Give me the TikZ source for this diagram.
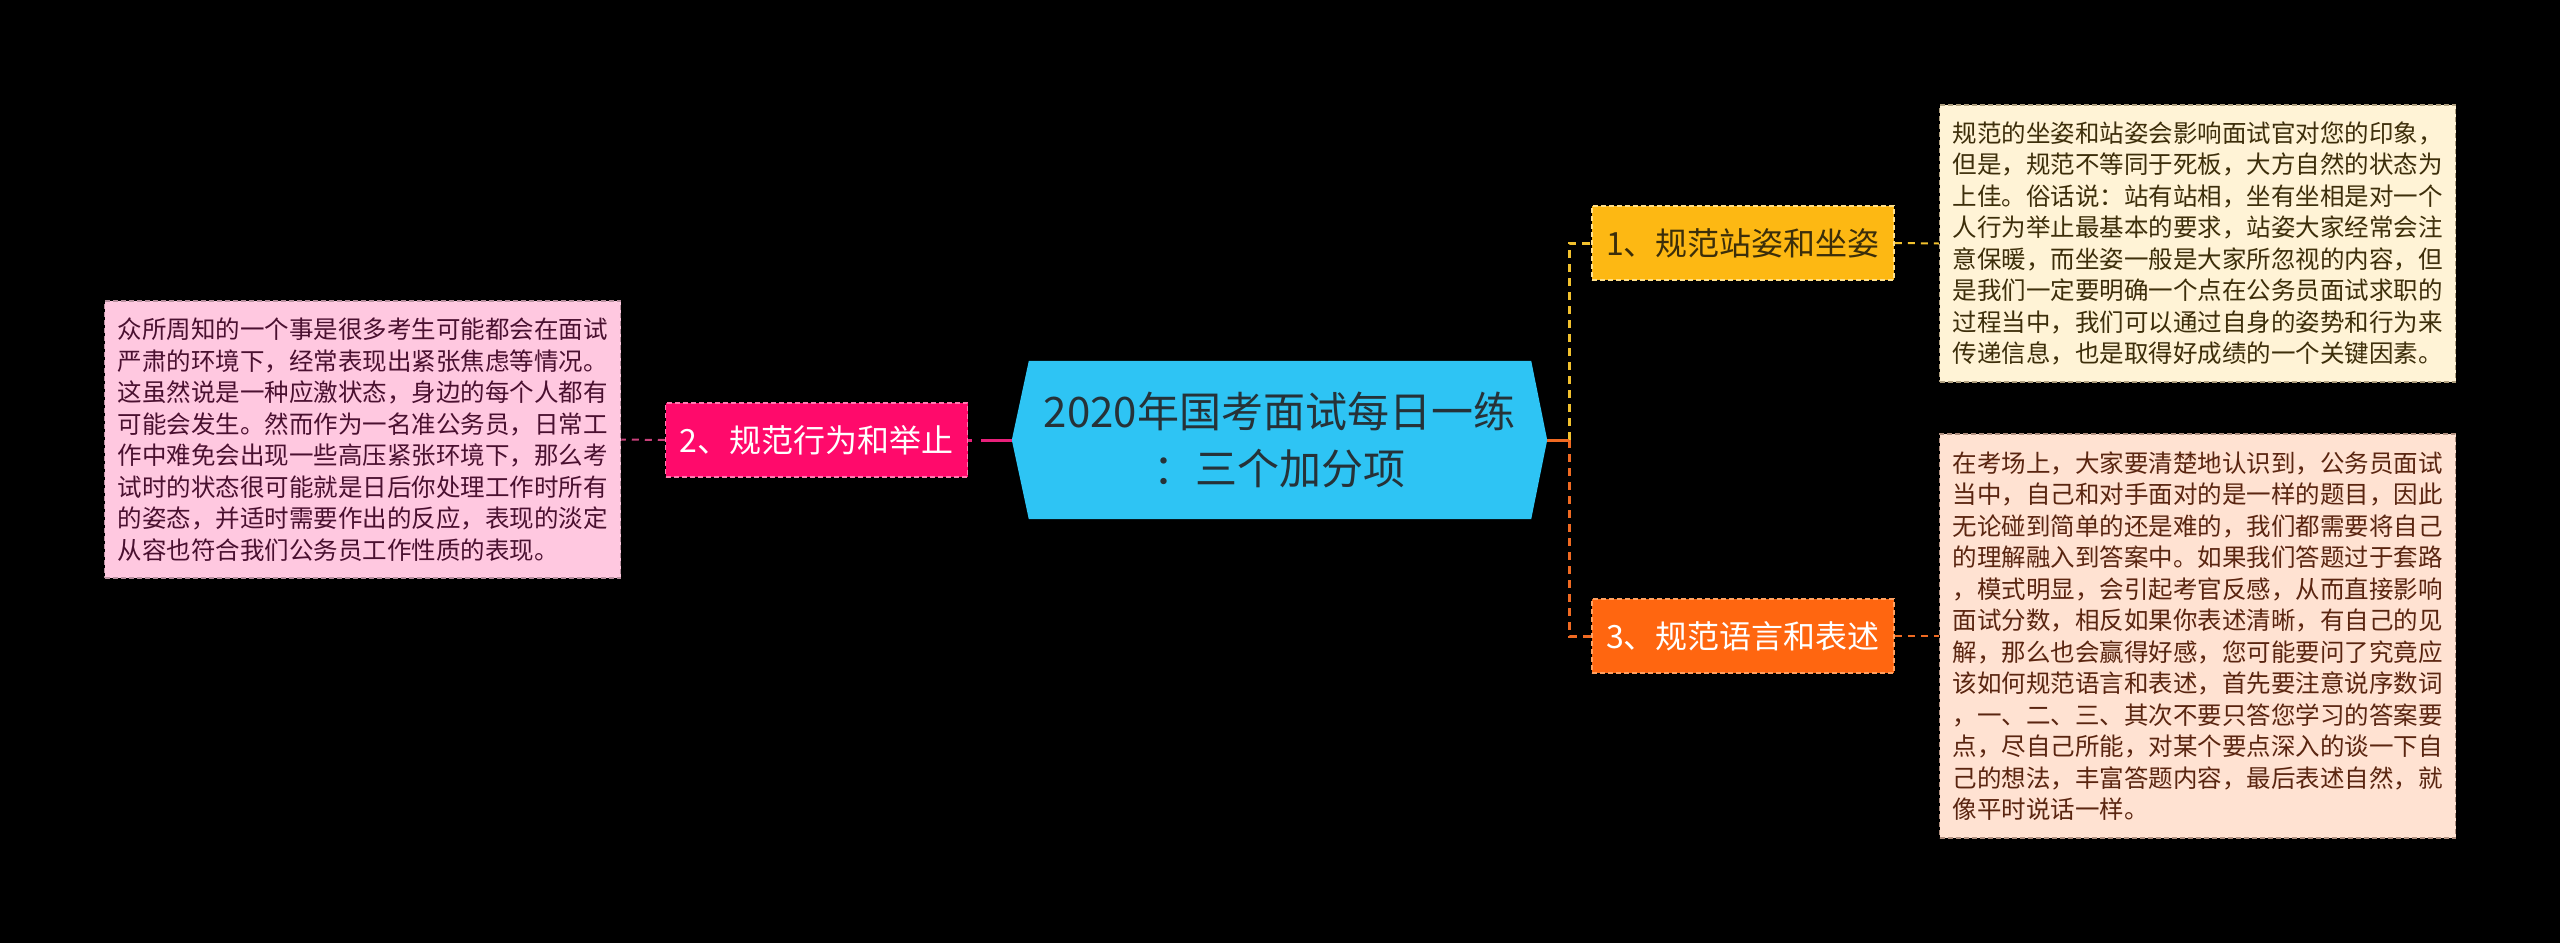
\documentclass[tikz,border=0pt]{standalone}
\usepackage{fontspec}
\setmainfont{Noto Sans CJK SC}
\usetikzlibrary{backgrounds}
\definecolor{cfill}{HTML}{2EC4F4}
\definecolor{ctext}{HTML}{263238}
\definecolor{yfill}{HTML}{FDB813}
\definecolor{yborder}{HTML}{FFE08A}
\definecolor{ytext}{HTML}{3B2E0A}
\definecolor{mfill}{HTML}{FF0A6B}
\definecolor{mborder}{HTML}{FF7AB0}
\definecolor{ofill}{HTML}{FF6610}
\definecolor{oborder}{HTML}{FFA060}
\definecolor{pinkfill}{HTML}{FFC8E0}
\definecolor{pinkborder}{HTML}{B8909F}
\definecolor{pinktext}{HTML}{4A1030}
\definecolor{creamfill}{HTML}{FFF3D6}
\definecolor{creamborder}{HTML}{B0A080}
\definecolor{creamtext}{HTML}{3D2E0A}
\definecolor{peachfill}{HTML}{FFE2D2}
\definecolor{peachborder}{HTML}{B09080}
\definecolor{peachtext}{HTML}{5A2510}
\definecolor{magline}{HTML}{E8207A}
\definecolor{pinkline}{HTML}{C8407A}
\definecolor{yline}{HTML}{F2C12E}
\definecolor{oline}{HTML}{F06A22}
\begin{document}
\begin{tikzpicture}[x=1pt,y=-1pt,
  txtbox/.style={draw, line width=1.5pt, dash pattern=on 5pt off 3pt, minimum width=516pt,
    inner sep=0pt, align=left, font=\fontsize{24.5}{31.5}\selectfont},
  branchbox/.style={draw, line width=1.5pt, dash pattern=on 5pt off 3pt, minimum width=302pt,
    minimum height=74pt, inner sep=0pt, font=\fontsize{32}{38}\selectfont},
  thickconn/.style={line width=3pt},
  thinconn/.style={line width=2pt, dash pattern=on 7pt off 6pt},
]
\useasboundingbox (0,0) rectangle (2560,943);

% central node
\node[minimum width=535pt, minimum height=158pt, inner sep=0pt, align=center,
  text=ctext, font=\fontsize{42}{56.5}\selectfont] (c) at (1279.5,440)
  {2020年国考面试每日一练\\：三个加分项};
\begin{scope}[on background layer]
\fill[black] (0,0) rectangle (2560,943);
\fill[cfill] ([xshift=17pt]c.north west) -- ([xshift=-16pt]c.north east) -- (c.east)
  -- ([xshift=-16pt]c.south east) -- ([xshift=17pt]c.south west) -- (c.west) -- cycle;
\end{scope}

% branch nodes
\node[branchbox, fill=yfill, draw=yborder, text=ytext] (b1) at (1743,243) {1、规范站姿和坐姿};
\node[branchbox, fill=mfill, draw=mborder, text=white] (b2) at (816.5,440) {2、规范行为和举止};
\node[branchbox, fill=ofill, draw=oborder, text=white] (b3) at (1743,636) {3、规范语言和表述};

% text boxes
\node[txtbox, fill=creamfill, draw=creamborder, text=creamtext, minimum height=277pt] (t1) at (2197.6,243.5) {%
规范的坐姿和站姿会影响面试官对您的印象，\\
但是，规范不等同于死板，大方自然的状态为\\
上佳。俗话说：站有站相，坐有坐相是对一个\\
人行为举止最基本的要求，站姿大家经常会注\\
意保暖，而坐姿一般是大家所忽视的内容，但\\
是我们一定要明确一个点在公务员面试求职的\\
过程当中，我们可以通过自身的姿势和行为来\\
传递信息，也是取得好成绩的一个关键因素。};

\node[txtbox, fill=pinkfill, draw=pinkborder, text=pinktext, minimum height=277pt] (t2) at (362.5,439.5) {%
众所周知的一个事是很多考生可能都会在面试\\
严肃的环境下，经常表现出紧张焦虑等情况。\\
这虽然说是一种应激状态，身边的每个人都有\\
可能会发生。然而作为一名准公务员，日常工\\
作中难免会出现一些高压紧张环境下，那么考\\
试时的状态很可能就是日后你处理工作时所有\\
的姿态，并适时需要作出的反应，表现的淡定\\
从容也符合我们公务员工作性质的表现。};

\node[txtbox, fill=peachfill, draw=peachborder, text=peachtext, minimum height=404pt] (t3) at (2197.6,636) {%
在考场上，大家要清楚地认识到，公务员面试\\
当中，自己和对手面对的是一样的题目，因此\\
无论碰到简单的还是难的，我们都需要将自己\\
的理解融入到答案中。如果我们答题过于套路\\
，模式明显，会引起考官反感，从而直接影响\\
面试分数，相反如果你表述清晰，有自己的见\\
解，那么也会赢得好感，您可能要问了究竟应\\
该如何规范语言和表述，首先要注意说序数词\\
，一、二、三、其次不要只答您学习的答案要\\
点，尽自己所能，对某个要点深入的谈一下自\\
己的想法，丰富答题内容，最后表述自然，就\\
像平时说话一样。};

% connectors
\coordinate (jR) at ([xshift=22pt]c.east);
\draw[thickconn, yline, dash pattern=on 8pt off 6pt] (jR) |- (b1.west);
\draw[thickconn, oline, dash pattern=on 8pt off 6pt] (jR) |- (b3.west);
\draw[thickconn, oline] (c.east) -- (jR);
\draw[thickconn, magline, dash pattern=on 31pt off 9pt] (c.west) -- (b2.east);
\draw[thinconn, pinkline] (b2.west) -- (t2.east);
\draw[thinconn, yline] (b1.east) -- (t1.west);
\draw[thinconn, oline] (b3.east) -- (t3.west);
\end{tikzpicture}
\end{document}
